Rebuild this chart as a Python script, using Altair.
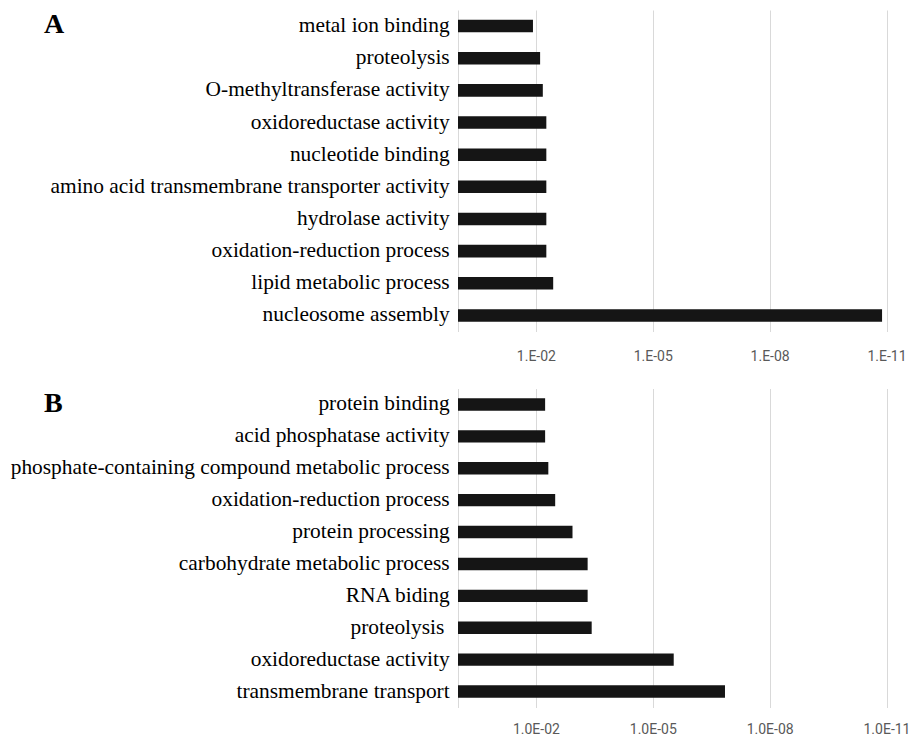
import altair as alt
import pandas as pd

# Panel A (top to bottom)
terms_a = [
    "metal ion binding",
    "proteolysis",
    "O-methyltransferase activity",
    "oxidoreductase activity",
    "nucleotide binding",
    "amino acid transmembrane transporter activity",
    "hydrolase activity",
    "oxidation-reduction process",
    "lipid metabolic process",
    "nucleosome assembly",
]
pvals_a = [1.19e-2, 7.8e-3, 6.65e-3, 5.4e-3, 5.4e-3, 5.4e-3, 5.4e-3, 5.4e-3, 3.6e-3, 1.3e-11]

# Panel B (top to bottom); the source label "proteolysis " carries a trailing space
terms_b = [
    "protein binding",
    "acid phosphatase activity",
    "phosphate-containing compound metabolic process",
    "oxidation-reduction process",
    "protein processing",
    "carbohydrate metabolic process",
    "RNA biding",
    "proteolysis\u00a0\u200b",
    "oxidoreductase activity",
    "transmembrane transport",
]
pvals_b = [5.8e-3, 5.8e-3, 4.8e-3, 3.2e-3, 1.15e-3, 4.7e-4, 4.7e-4, 3.7e-4, 2.9e-6, 1.4e-7]

tick_values = [1, 1e-2, 1e-5, 1e-8, 1e-11]
domain_x = [1, 1e-11]


def panel(terms, pvals, letter, prefix, height, label_pad):
    df = pd.DataFrame({"term": terms, "p": pvals, "base": [1.0] * len(terms)})
    expo = "round(-log(datum.value)/LN10)"
    label_expr = (
        f"datum.value >= 0.5 ? '' : '{prefix}' + ({expo} < 10 ? '0' : '') + {expo}"
    )
    bars = alt.Chart(df).mark_bar(color="#151515").encode(
        x=alt.X(
            "p:Q",
            scale=alt.Scale(type="log", domain=domain_x),
            axis=alt.Axis(
                values=tick_values,
                labelExpr=label_expr,
                grid=True,
                gridColor="#d9d9d9",
                gridWidth=1,
                domain=False,
                ticks=False,
                tickSize=0,
                labelFont="Roboto",
                labelFontSize=14.0,
                labelColor="#595959",
                labelPadding=label_pad,
                labelFlush=False,
                labelOverlap=False,
                title=None,
            ),
        ),
        x2=alt.X2("base:Q"),
        y=alt.Y(
            "term:N",
            sort=terms,
            scale=alt.Scale(paddingInner=0.61, paddingOuter=0.305),
            axis=alt.Axis(
                title=None,
                labelFont="Liberation Serif",
                labelFontSize=21.4,
                labelColor="black",
                labelPadding=8.8,
                labelLimit=800,
                ticks=False,
                domain=False,
                grid=False,
            ),
        ),
    )
    letter_df = pd.DataFrame({"t": [letter]})
    lab = alt.Chart(letter_df).mark_text(
        font="Liberation Serif",
        fontSize=28,
        fontWeight="bold",
        align="left",
        baseline="alphabetic",
        color="black",
    ).encode(text="t:N", x=alt.value(-414), y=alt.value(23.3))
    return alt.layer(bars, lab).properties(width=428.5, height=height)


top = panel(terms_a, pvals_a, "A", "1.E-", 321.5, 18)
bottom = panel(terms_b, pvals_b, "B", "1.0E-", 319.0, 15)

chart = (
    alt.vconcat(top, bottom, spacing=24.5)
    .properties(padding={"left": 2, "top": 2, "right": 0, "bottom": -1}, background="white")
    .configure_view(stroke=None)
)

chart.save("out.html", embed_options={"renderer": "svg", "actions": False})
